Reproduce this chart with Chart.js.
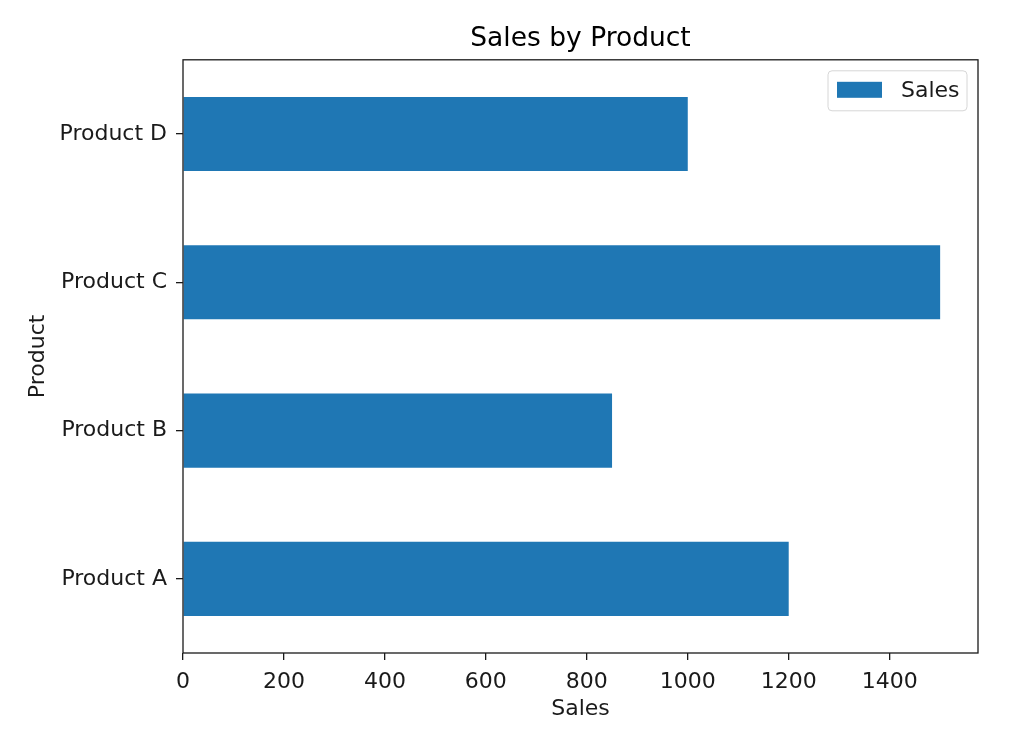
<!DOCTYPE html>
<html>
<head>
<meta charset="utf-8">
<script src="https://cdn.jsdelivr.net/npm/chart.js@4/dist/chart.umd.min.js"></script>
<style>
  body { margin: 0; background: #fff; }
</style>
</head>
<body>
<canvas id="myChart" width="1024" height="736"></canvas>
<script>
var products = ["Product A", "Product B", "Product C", "Product D"];
var sales = [1200, 850, 1500, 1000];
var xTickValues = [0, 200, 400, 600, 800, 1000, 1200, 1400];
var xMax = 1575;

Chart.defaults.font.family = "'DejaVu Sans', sans-serif";
Chart.defaults.color = '#1a1a1a';

// draws the frame around the plot
var frame = {
    id: 'frame',
    afterDraw: function(chart) {
        var a = chart.chartArea;
        var c = chart.ctx;
        c.save();
        c.strokeStyle = '#1a1a1a';
        c.lineWidth = 1.3;
        c.strokeRect(a.left, a.top, a.right - a.left, a.bottom - a.top);
        c.restore();
    }
};

// legend in the top right corner, inside the plot
var innerLegend = {
    id: 'innerLegend',
    afterDraw: function(chart) {
        var a = chart.chartArea;
        var c = chart.ctx;
        var ds = chart.data.datasets[0];
        var w = 139, h = 40;
        var x = a.right - 11 - w, y = a.top + 11;
        c.save();
        c.beginPath();
        c.roundRect(x, y, w, h, 4);
        c.fillStyle = 'rgba(255,255,255,0.8)';
        c.fill();
        c.strokeStyle = '#d6d6d6';
        c.lineWidth = 1;
        c.stroke();
        c.fillStyle = ds.backgroundColor;
        c.fillRect(x + 9, y + 11, 45, 16);
        c.fillStyle = '#1a1a1a';
        c.font = "22px 'DejaVu Sans'";
        c.textBaseline = 'middle';
        c.fillText(ds.label, x + 73, y + 20);
        c.restore();
    }
};

var ctx = document.getElementById('myChart').getContext('2d');
var chart = new Chart(ctx, {
    type: 'bar',
    data: {
        labels: products,
        datasets: [{
            label: "Sales",
            data: sales,
            backgroundColor: '#1f77b4',
            barPercentage: 0.5,
            categoryPercentage: 1.0
        }]
    },
    options: {
        responsive: false,
        animation: false,
        indexAxis: 'y',
        layout: { padding: { left: 0, right: 46, top: 0, bottom: 0 } },
        plugins: {
            legend: { display: false },
            tooltip: { enabled: false },
            title: {
                display: true,
                fullSize: false,
                text: 'Sales by Product',
                color: '#000',
                font: { size: 26.5, weight: 'normal' },
                padding: { top: 23, bottom: 5 }
            }
        },
        scales: {
            x: {
                min: 0,
                max: xMax,
                afterFit: function(scale) { scale.height = 83; },
                afterBuildTicks: function(scale) {
                    scale.ticks = xTickValues.map(function(v) { return { value: v }; });
                },
                ticks: { font: { size: 22 }, padding: 9, maxRotation: 0, autoSkip: false,
                         callback: function(v) { return String(v); } },
                grid: { drawOnChartArea: false, drawTicks: true, tickLength: 7, color: '#1a1a1a', lineWidth: 1.3 },
                border: { display: false },
                title: { display: true, text: 'Sales', font: { size: 22 }, padding: { top: 0, bottom: 14 } }
            },
            y: {
                reverse: true,
                afterFit: function(scale) { scale.width = 183; },
                ticks: { font: { size: 22 }, padding: 9 },
                grid: { offset: false, drawOnChartArea: false, drawTicks: true, tickLength: 7, color: '#1a1a1a', lineWidth: 1.3 },
                border: { display: false },
                title: { display: true, text: 'Product', font: { size: 22 }, padding: { top: 25, bottom: 0 } }
            }
        }
    },
    plugins: [frame, innerLegend]
});
</script>
</body>
</html>
